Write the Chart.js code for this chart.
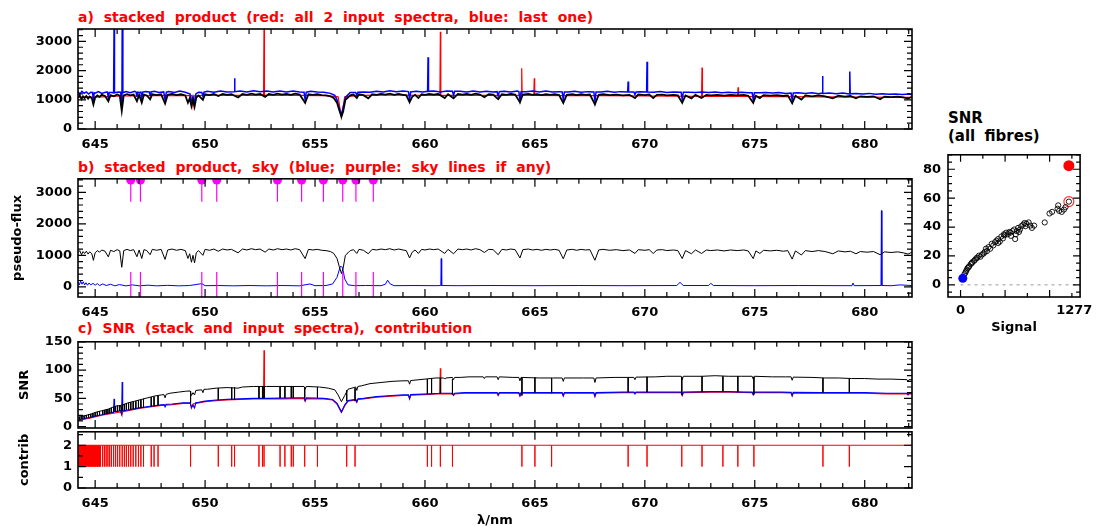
<!DOCTYPE html>
<html>
<head>
<meta charset="utf-8">
<title>stack diagnostics</title>
<script src="https://cdn.jsdelivr.net/npm/chart.js@4.4.0/dist/chart.umd.min.js"></script>
<style>
  html, body { margin: 0; padding: 0; background: #fff; }
  body { width: 1099px; height: 526px; overflow: hidden; position: relative; font-family: 'DejaVu Sans', sans-serif; }
  canvas { position: absolute; }
  .ptitle { position: absolute; left: 78px; color: #ff0000; font-weight: bold; font-size: 14px; line-height: 16px; word-spacing: 5px; white-space: nowrap; }
  .stitle { position: absolute; left: 948px; top: 109px; color: #000; font-weight: bold; font-size: 15px; line-height: 18.4px; word-spacing: 4px; white-space: nowrap; }
</style>
</head>
<body>
<div class="ptitle" style="top:9px">a) stacked product (red: all 2 input spectra, blue: last one)</div>
<div class="ptitle" style="top:159px">b) stacked product, sky (blue; purple: sky lines if any)</div>
<div class="ptitle" style="top:320px">c) SNR (stack and input spectra), contribution</div>
<div class="stitle">SNR<br>(all fibres)</div>
<canvas id="panelA"></canvas>
<canvas id="panelB"></canvas>
<canvas id="panelSnr"></canvas>
<canvas id="panelContrib"></canvas>
<canvas id="panelFibres"></canvas>
<script>
// axes
const lamMin = 644.22, lamMax = 682.15;
const lamTicks = [645, 650, 655, 660, 665, 670, 675, 680];
const fluxTicks = [0, 1000, 2000, 3000];
const snrTicks = [0, 50, 100, 150];
const contribTicks = [0, 1, 2];
const fibreSnrTicks = [0, 20, 40, 60, 80];
const signalTicks = [0, 1277];

// stacked product (black), nm / pseudo-flux
const stackFlux = [[644.22,1080],[644.30,1150],[644.38,1020],[644.45,1120],[644.52,1060],[644.60,1130],[644.68,1040],[644.75,1110],[644.85,1050],[644.92,840],[645.00,1080],[645.10,1150],[645.20,1100],[645.30,1170],[645.45,1130],[645.60,950],[645.70,1160],[645.85,1120],[646.00,1180],[646.12,1140],[646.21,620],[646.30,1150],[646.45,1190],[646.60,1150],[646.75,1180],[646.90,955],[647.00,1170],[647.12,900],[647.22,1180],[647.35,1150],[647.50,1020],[647.60,1190],[647.80,1160],[648.00,1190],[648.18,870],[648.30,1170],[648.50,1200],[648.70,1160],[648.90,1190],[649.10,1150],[649.22,900],[649.30,1050],[649.38,780],[649.45,1000],[649.52,760],[649.60,1080],[649.70,1150],[649.90,1000],[650.00,1190],[650.20,1160],[650.40,1200],[650.60,1130],[650.80,1200],[651.00,1170],[651.20,1190],[651.50,1080],[651.70,1200],[651.90,1170],[652.10,1210],[652.30,1180],[652.50,1200],[652.73,1100],[652.90,1200],[653.10,1170],[653.30,1210],[653.50,1180],[653.70,1200],[653.90,1170],[654.10,1210],[654.30,1180],[654.55,896],[654.70,1190],[654.90,1170],[655.10,1190],[655.30,1160],[655.50,1150],[655.70,1120],[655.85,1060],[656.00,900],[656.10,650],[656.20,420],[656.28,600],[656.38,1000],[656.50,1080],[656.60,1150],[656.75,1180],[656.90,1060],[657.00,1190],[657.20,1160],[657.42,1050],[657.60,1190],[657.80,1170],[658.00,1200],[658.20,1180],[658.40,1210],[658.60,1170],[658.80,1200],[659.00,1170],[659.15,1150],[659.30,916],[659.42,1100],[659.55,1170],[659.70,1060],[659.85,1190],[660.00,1170],[660.20,1200],[660.40,1180],[660.60,1200],[660.90,1060],[661.05,1190],[661.30,1050],[661.50,1200],[661.70,1180],[661.90,1200],[662.10,1170],[662.30,1210],[662.50,1180],[662.70,1090],[662.90,1190],[663.10,1180],[663.33,1020],[663.50,1190],[663.70,1170],[663.90,1200],[664.10,1180],[664.32,916],[664.45,1180],[664.70,1200],[664.90,1170],[665.10,1190],[665.30,1160],[665.50,1190],[665.70,1170],[665.90,1190],[666.10,1160],[666.29,890],[666.45,1170],[666.70,1190],[666.90,1160],[667.10,1190],[667.30,1170],[667.50,1180],[667.73,843],[667.90,1170],[668.10,1190],[668.40,1160],[668.70,1180],[669.00,1150],[669.30,1170],[669.55,1060],[669.70,1180],[670.00,1160],[670.20,1180],[670.38,1060],[670.55,1170],[670.80,1180],[671.00,1150],[671.30,1170],[671.50,1150],[671.70,896],[671.85,1150],[672.12,1050],[672.30,1170],[672.58,1060],[672.80,1170],[673.00,1150],[673.30,1170],[673.60,1140],[673.90,1170],[674.20,1150],[674.50,1170],[674.70,1140],[674.93,896],[675.05,1140],[675.23,1060],[675.40,1160],[675.70,1140],[676.00,1160],[676.30,1130],[676.50,1150],[676.70,880],[676.85,1140],[677.12,1010],[677.30,1150],[677.60,1120],[677.90,1150],[678.20,1120],[678.55,1050],[678.80,1140],[679.10,1110],[679.35,1130],[679.60,1050],[679.80,1120],[680.10,1100],[680.40,1120],[680.70,1020],[680.90,1110],[681.20,1090],[681.50,1110],[681.75,1080],[681.97,1040],[682.15,1100]];

// last input spectrum (blue)
const lastFlux = [[644.22,1280],[644.30,1200],[644.40,1290],[644.50,1220],[644.60,1270],[644.70,1200],[644.80,1260],[644.88,1250],[644.92,1000],[644.96,1240],[645.00,1230],[645.15,1280],[645.30,1220],[645.50,1270],[645.56,1260],[645.60,1050],[645.64,1250],[645.75,1250],[645.84,1240],[645.86,3500],[645.88,1240],[646.05,1270],[646.16,1260],[646.20,900],[646.22,1200],[646.23,3500],[646.26,1240],[646.40,1280],[646.60,1240],[646.80,1290],[646.86,1270],[646.90,1100],[646.94,1260],[647.00,1250],[647.08,1260],[647.12,1050],[647.16,1260],[647.30,1280],[647.46,1270],[647.50,1150],[647.54,1270],[647.70,1290],[647.90,1250],[648.12,1270],[648.18,1000],[648.24,1260],[648.35,1280],[648.60,1250],[648.85,1300],[649.10,1260],[649.32,1200],[649.38,900],[649.45,1100],[649.52,880],[649.58,1200],[649.70,1260],[649.85,1250],[649.90,1120],[649.95,1260],[650.10,1290],[650.40,1260],[650.70,1300],[651.00,1270],[651.32,1280],[651.34,1740],[651.36,1280],[651.60,1300],[651.90,1270],[652.20,1310],[652.50,1280],[652.80,1300],[653.10,1270],[653.40,1300],[653.70,1270],[654.00,1300],[654.30,1270],[654.50,1260],[654.55,1000],[654.60,1260],[654.80,1290],[655.10,1270],[655.40,1260],[655.70,1220],[655.90,1150],[656.00,1000],[656.10,700],[656.20,500],[656.30,800],[656.40,1100],[656.60,1250],[656.85,1250],[656.90,1150],[656.95,1260],[657.20,1270],[657.50,1260],[657.80,1290],[658.10,1270],[658.40,1310],[658.70,1280],[659.00,1300],[659.25,1280],[659.30,1000],[659.35,1270],[659.60,1290],[659.90,1270],[660.12,1290],[660.14,2457],[660.16,1290],[660.40,1300],[660.70,1270],[661.00,1300],[661.25,1290],[661.30,1150],[661.35,1290],[661.60,1290],[661.90,1270],[662.20,1300],[662.50,1270],[662.80,1290],[663.10,1270],[663.28,1280],[663.33,1120],[663.38,1280],[663.60,1290],[663.90,1270],[664.20,1300],[664.27,1280],[664.32,1000],[664.37,1280],[664.60,1280],[664.90,1300],[665.20,1270],[665.50,1300],[665.80,1270],[666.10,1280],[666.24,1270],[666.29,1000],[666.34,1270],[666.50,1270],[666.80,1290],[667.10,1260],[667.40,1280],[667.68,1270],[667.73,950],[667.78,1270],[668.00,1270],[668.30,1290],[668.60,1260],[668.90,1280],[669.22,1270],[669.24,1625],[669.26,1270],[669.50,1270],[669.55,1180],[669.60,1270],[669.80,1280],[670.08,1270],[670.10,2307],[670.12,1270],[670.40,1260],[670.70,1280],[671.00,1250],[671.30,1270],[671.65,1260],[671.70,1000],[671.75,1260],[672.00,1260],[672.30,1250],[672.60,1270],[672.90,1250],[673.20,1270],[673.50,1240],[673.80,1260],[674.10,1240],[674.40,1260],[674.70,1240],[674.88,1240],[674.93,1000],[674.98,1240],[675.20,1240],[675.50,1250],[675.80,1230],[676.10,1250],[676.40,1220],[676.65,1230],[676.70,990],[676.75,1230],[677.00,1240],[677.30,1220],[677.60,1240],[677.90,1210],[678.06,1230],[678.08,1819],[678.10,1220],[678.40,1230],[678.70,1210],[679.00,1230],[679.30,1200],[679.32,1966],[679.34,1210],[679.60,1220],[679.90,1200],[680.20,1220],[680.50,1190],[680.80,1210],[681.10,1190],[681.40,1200],[681.70,1180],[682.00,1200],[682.15,1170]];

// first input spectrum (red, mostly under the others)
const firstFlux = [[644.22,1080],[644.60,1100],[645.00,1090],[645.60,1110],[646.16,1130],[646.21,700],[646.26,1130],[646.50,1130],[647.50,1140],[648.50,1150],[649.40,1140],[649.45,800],[649.50,1140],[650.20,1150],[651.50,1150],[652.66,1150],[652.68,3500],[652.70,1150],[654.00,1150],[655.50,1140],[656.05,1100],[656.20,400],[656.35,1100],[657.00,1150],[658.50,1160],[660.00,1150],[660.68,1150],[660.70,3331],[660.72,1150],[662.00,1150],[664.38,1150],[664.40,2082],[664.42,1150],[664.95,1150],[664.97,1740],[664.99,1150],[666.50,1140],[668.00,1140],[670.00,1130],[672.58,1120],[672.60,2102],[672.62,1120],[674.22,1120],[674.24,1433],[674.26,1120],[676.00,1110],[678.00,1100],[680.00,1090],[682.15,1080]];

// sky (blue, panel b)
const skyFlux = [[644.22,150],[644.28,60],[644.34,180],[644.40,80],[644.46,160],[644.52,60],[644.58,130],[644.65,50],[644.72,120],[644.80,60],[644.90,110],[645.00,50],[645.10,100],[645.20,40],[645.35,90],[645.50,40],[645.70,80],[645.90,30],[646.10,70],[646.40,30],[646.70,60],[647.00,30],[647.40,50],[647.80,30],[648.30,45],[648.80,30],[649.30,40],[649.85,100],[650.00,35],[650.60,40],[651.30,30],[652.00,40],[652.80,30],[653.50,40],[654.30,30],[654.77,90],[655.00,35],[655.50,40],[655.80,90],[656.00,300],[656.15,650],[656.25,620],[656.35,250],[656.50,60],[656.80,35],[657.30,40],[658.00,35],[658.20,80],[658.30,210],[658.42,90],[658.60,35],[659.50,40],[660.50,35],[660.72,40],[660.74,896],[660.76,40],[661.50,35],[663.00,40],[665.00,35],[667.00,40],[669.00,35],[671.45,40],[671.60,140],[671.75,40],[672.90,40],[673.00,110],[673.12,40],[675.00,35],[677.00,40],[679.42,35],[679.47,120],[679.52,35],[680.74,40],[680.76,2420],[680.78,40],[681.20,35],[681.60,60],[682.15,40]];

// sky line positions (purple markers)
const skyLines = [646.62, 647.06, 649.85, 650.53, 653.29, 654.39, 655.38, 656.26, 656.86, 657.65];

// SNR of the stack (black), last input (blue), first input (red)
const snrStack = [[644.22,16],[644.50,19],[644.80,22],[645.00,25],[645.30,28],[645.60,31],[645.90,36],[646.16,37.5],[646.21,30],[646.26,38.5],[646.50,42],[646.80,45],[647.10,48],[647.40,51],[647.70,54],[648.00,56],[648.13,56.5],[648.18,51],[648.23,57],[648.40,59],[648.80,61],[649.10,62.5],[649.32,63],[649.38,55],[649.45,60],[649.52,56],[649.58,64],[649.85,65],[649.90,60],[649.95,66],[650.10,66],[650.50,68],[651.00,69],[651.50,68],[651.70,70],[652.20,71],[652.80,71],[653.40,71],[654.00,71],[654.50,71],[654.55,66],[654.60,71],[655.20,70],[655.60,68],[655.90,65],[656.05,56],[656.20,44],[656.35,55],[656.50,66],[656.85,70],[656.90,64],[656.95,71],[657.10,72],[657.50,76],[658.00,78],[658.50,80],[659.00,81],[659.25,81],[659.30,75],[659.35,81.5],[659.50,82],[660.00,84],[660.50,86],[660.85,86],[660.90,84],[660.95,86],[661.25,87],[661.30,83],[661.35,87],[661.60,87],[662.00,88],[662.65,88],[662.70,85],[662.75,88],[663.28,88],[663.33,83],[663.38,88],[664.00,87],[664.27,87],[664.32,81],[664.37,87],[665.20,86],[665.80,86],[666.24,86],[666.29,80],[666.34,86],[667.20,86],[667.68,86],[667.73,78],[667.78,86],[668.60,87],[669.20,87],[669.50,87],[669.55,83],[669.60,87.5],[670.50,88],[671.00,89],[671.65,89],[671.70,83],[671.75,89],[672.60,89],[673.20,90],[673.80,89],[674.40,89],[674.88,89],[674.93,84],[674.98,89],[675.80,88],[676.40,88],[676.65,88],[676.70,82],[676.75,87.5],[677.60,87],[678.20,86],[678.80,86],[679.40,85],[680.00,85],[680.60,84],[681.20,84],[681.92,83],[681.97,80],[682.02,83],[682.15,83]];
const snrLast = [[644.22,12],[644.50,14],[644.80,16.5],[645.00,18.5],[645.30,21],[645.60,23.5],[645.84,25.5],[645.86,49],[645.88,26],[646.16,28],[646.21,22],[646.23,79],[646.25,28],[646.60,30],[647.00,33],[647.50,36],[648.00,38.5],[648.13,39],[648.18,35],[648.23,39.5],[648.50,40],[649.00,42],[649.32,42],[649.38,34],[649.45,38],[649.52,33],[649.58,42.5],[649.70,43],[650.00,45],[650.50,47],[651.00,48],[651.60,49],[652.20,50],[652.80,50],[653.50,50.5],[654.20,51],[654.50,51],[654.55,46],[654.60,51],[655.40,50],[655.80,48],[656.00,41],[656.20,26],[656.35,38],[656.50,46],[656.85,48],[656.90,44],[656.95,49],[657.20,50],[657.80,53],[658.50,55],[659.00,56],[659.25,56],[659.30,50],[659.35,56.5],[660.20,58],[660.80,59],[661.25,59],[661.30,56],[661.35,59],[661.80,60],[662.50,60],[663.28,60],[663.33,56],[663.38,60],[664.27,60],[664.32,55],[664.37,60],[665.50,60],[666.24,60],[666.29,55],[666.34,60],[667.68,60],[667.73,54],[667.78,60],[669.00,61],[669.50,61],[669.55,58],[669.60,61],[670.20,61],[671.00,61],[671.65,61],[671.70,56],[671.75,61],[673.00,62],[673.80,62],[674.50,61],[674.88,61],[674.93,57],[674.98,61],[676.20,61],[676.65,60.5],[676.70,55],[676.75,60.5],[678.00,60],[679.00,60],[680.00,60],[681.00,59],[681.92,59],[681.97,56],[682.02,59],[682.15,59]];
const snrFirst = [[644.22,11],[644.80,15.5],[645.30,20],[645.90,24],[646.16,26],[646.21,21],[646.26,26.5],[646.50,28],[647.00,32],[647.50,35],[648.00,37.5],[648.50,39],[649.00,41],[649.33,41],[649.38,33],[649.45,40],[649.70,42],[650.00,44],[650.50,46],[651.00,47],[651.60,48],[652.20,49],[652.66,49],[652.68,135],[652.70,49],[653.50,49],[654.20,49.5],[654.50,49.5],[654.55,45],[654.60,49.5],[655.40,49],[655.80,47],[656.00,40],[656.20,25],[656.35,37],[656.50,45],[656.85,47],[656.90,43],[656.95,48],[657.20,49],[657.80,52],[658.50,54],[659.00,55],[659.25,55],[659.30,49],[659.35,55.5],[660.20,57],[660.68,58],[660.70,103],[660.72,58],[661.25,58],[661.30,55],[661.35,58],[661.80,59],[662.50,59],[663.28,59],[663.33,55],[663.38,59],[664.27,59],[664.32,54],[664.37,59],[665.50,59],[666.24,59],[666.29,54],[666.34,59],[667.68,59],[667.73,53],[667.78,59],[669.00,60],[670.20,60],[671.00,60],[671.65,60],[671.70,55],[671.75,60],[673.00,61],[674.00,61],[674.88,60],[674.93,56],[674.98,60],[676.20,60],[676.65,59.5],[676.70,54],[676.75,59.5],[678.00,59],[679.00,59],[680.00,59],[681.00,58],[682.15,58]];

// where only one input contributes: wavelength, stack SNR, single SNR
const dropAt   = [644.30,644.40,644.50,644.60,644.70,644.80,644.90,645.00,645.10,645.20,645.34,645.42,645.50,645.58,645.66,645.74,645.84,645.93,646.02,646.12,646.23,646.33,646.42,646.52,646.62,646.73,646.85,646.97,647.08,647.20,647.55,647.68,647.86,649.34,650.60,651.21,651.34,652.45,652.61,652.68,653.41,653.63,653.92,654.01,654.53,655.11,656.44,656.82,660.11,660.30,660.70,661.25,664.41,665.00,665.76,669.24,670.10,671.68,672.60,673.55,674.23,674.96,678.10,679.30];
const dropHigh = [17.5,18.5,19.5,20.5,21.5,22.5,23.5,25,26,27,28,29,30,31,32,33,34,36,37,38,39,40,41,42,43,44,45,46,48,49,52,53,55,63,68,69,69,71,71,71,71,71,71,71,70,70,64,68,84,85,86,84,86,87,86,87,88,88,89,89,89,88,86,85];
const dropLow  = [12.5,13.3,14,15,15.7,16.5,17.5,18.5,19.2,20,21,22,22.5,23,23.5,24.5,25.5,26,27,27.5,28,29,29.5,30,30,31,31.5,32.5,33,34,35.5,36,37.5,42,47,48,48,50,50,50,50.5,50.5,51,51,51,51,45,45,58,58,59,56,55,60,59,61,61,56,61,62,61,57,60,60];
const contribBlock = [644.22, 645.28];

// SNR of all fibres vs signal
const fibreSignal = [43,54,61,72,79,90,97,115,126,133,151,162,177,188,206,224,242,260,271,285,296,314,332,350,368,386,404,422,422,440,458,476,487,494,512,530,548,559,566,584,602,613,620,631,646,656,667,682,703,718,729,739,765,783,801,826,945,999,1028,1089,1096,1107,1136,1161,1179,1216];
const fibreSnr = [7.3,8.4,9.5,10.6,11.7,12.2,12.9,14.4,15.1,15.7,16.6,17.3,18.4,18.8,20.2,19.5,21.1,21.7,22.8,25.0,23.3,26.1,25.0,28.4,27.3,29.5,30.6,31.7,29.0,29.9,33.5,32.1,35.0,34.3,36.1,35.0,36.6,36.1,33.9,37.2,38.3,31.7,35.0,37.2,39.4,36.6,38.3,40.6,41.7,42.8,40.6,42.3,43.2,41.0,39.4,41.0,43.2,49.4,50.5,52.7,55.0,51.2,50.5,52.1,53.8,57.6];
const stackPoint = [1216, 82.5];
const inputPoint = [1216, 57.6];
const skyPoint = [25, 4.5];

Chart.defaults.font.family = 'DejaVu Sans';
Chart.defaults.font.weight = 'bold';
Chart.defaults.font.size = 13;
Chart.defaults.color = '#000';

const toXY = pts => pts.map(([x, y]) => ({x, y}));

// PGPLOT-like box: inward ticks on all four sides
const framePlugin = {
  id: 'frame',
  afterDatasetsDraw(chart, args, o) {
    const {ctx, chartArea: a} = chart;
    const xs = chart.scales.x, ys = chart.scales.y;
    ctx.save();
    if (o.zero) {
      const py = ys.getPixelForValue(0);
      ctx.setLineDash([3, 4]);
      ctx.lineWidth = 1;
      ctx.strokeStyle = '#9a9a9a';
      ctx.beginPath();
      ctx.moveTo(xs.getPixelForValue(0), py);
      ctx.lineTo(a.right, py);
      ctx.stroke();
      ctx.setLineDash([]);
    }
    ctx.strokeStyle = '#000';
    ctx.lineWidth = 1.2;
    const marks = (scale, major, minor, draw) => {
      const k0 = Math.ceil(scale.min / minor - 1e-6), k1 = Math.floor(scale.max / minor + 1e-6);
      for (let k = k0; k <= k1; k++) {
        const v = k * minor;
        const isMajor = Math.abs(v / major - Math.round(v / major)) < 1e-6;
        draw(scale.getPixelForValue(v), isMajor ? o.major : o.minor);
      }
    };
    ctx.beginPath();
    marks(xs, o.x[0], o.x[1], (p, len) => {
      ctx.moveTo(p, a.bottom); ctx.lineTo(p, a.bottom - len);
      ctx.moveTo(p, a.top); ctx.lineTo(p, a.top + len);
    });
    marks(ys, o.y[0], o.y[1], (p, len) => {
      ctx.moveTo(a.left, p); ctx.lineTo(a.left + len, p);
      ctx.moveTo(a.right, p); ctx.lineTo(a.right - len, p);
    });
    ctx.stroke();
    ctx.lineWidth = 1.6;
    ctx.strokeRect(a.left, a.top, a.right - a.left, a.bottom - a.top);
    ctx.restore();
  }
};

function place(id, cv, area) {
  const el = document.getElementById(id);
  el.width = cv.w;
  el.height = cv.h;
  Object.assign(el.style, {left: cv.x + 'px', top: cv.y + 'px', width: cv.w + 'px', height: cv.h + 'px'});
  return {
    el,
    padding: {left: 0, top: area.top - cv.y, right: cv.x + cv.w - area.right, bottom: 0},
    yWidth: area.left - cv.x,
    xHeight: cv.y + cv.h - area.bottom
  };
}

function xAxis(p, o) {
  return {
    type: 'linear', min: o.min, max: o.max,
    grid: {display: false, drawTicks: false},
    border: {display: false},
    afterBuildTicks: s => { s.ticks = o.ticks.map(v => ({value: v})); },
    afterFit: s => { s.height = p.xHeight; },
    ticks: {display: o.labels !== false, padding: o.pad || 8, maxRotation: 0, autoSkip: false, callback: v => String(v)},
    title: o.title ? {display: true, text: o.title, padding: {top: 0, bottom: o.titlePad}} : {display: false}
  };
}

function yAxis(p, o) {
  return {
    type: 'linear', min: o.min, max: o.max,
    grid: {display: false, drawTicks: false},
    border: {display: false},
    afterBuildTicks: s => { s.ticks = o.ticks.map(v => ({value: v})); },
    afterFit: s => { s.width = p.yWidth; },
    ticks: {padding: o.pad || 6, autoSkip: false, callback: v => String(v)},
    title: o.title ? {display: true, text: o.title, padding: {top: o.titlePad, bottom: 0}} : {display: false}
  };
}

function line(data, color, width) {
  return {data, borderColor: color, borderWidth: width, showLine: true, pointRadius: 0, tension: 0, fill: false, clip: 0};
}

function build(p, datasets, x, y, frame) {
  return new Chart(p.el, {
    type: 'scatter',
    data: {datasets},
    options: {
      responsive: false, animation: false, events: [],
      layout: {padding: p.padding},
      plugins: {legend: {display: false}, tooltip: {enabled: false}, frame},
      scales: {x: xAxis(p, x), y: yAxis(p, y)}
    },
    plugins: [framePlugin]
  });
}

const lamAxis = {min: lamMin, max: lamMax, ticks: lamTicks};

// a) stacked product with both inputs
const pA = place('panelA', {x: 0, y: 15, w: 925, h: 150}, {left: 78, top: 29, right: 912, bottom: 129});
build(pA, [
  line(toXY(stackFlux), '#000000', 1.8),
  line(toXY(lastFlux), '#0000ff', 1.5),
  line(toXY(firstFlux), '#ff0000', 1.2)
], lamAxis, {min: 0, max: 3425, ticks: fluxTicks}, {x: [5, 1], y: [1000, 200], major: 8, minor: 5});

// b) stacked product and sky
const skyTop = 3433, skyPinEnd = 2700, skyBottom = -325, skyPinLow = 470;
const pinLines = skyLines.flatMap(l => [
  {x: l, y: skyTop}, {x: l, y: skyPinEnd}, {x: l, y: null},
  {x: l, y: skyBottom}, {x: l, y: skyPinLow}, {x: l, y: null}
]);
const pinHeads = skyLines.map(l => ({x: l, y: skyTop - 40}));
const pB = place('panelB', {x: 0, y: 165, w: 925, h: 165}, {left: 78, top: 178, right: 912, bottom: 297});
build(pB, [
  line(pinLines, '#ff00ff', 1.2),
  {data: pinHeads, pointRadius: 4.5, pointBackgroundColor: '#ff00ff', pointBorderWidth: 0, showLine: false, clip: 0},
  line(toXY(stackFlux), '#000000', 1),
  line(toXY(skyFlux), '#0000ff', 1)
], lamAxis, {min: skyBottom, max: skyTop, ticks: fluxTicks, title: 'pseudo-flux', titlePad: 10}, {x: [5, 1], y: [1000, 200], major: 8, minor: 5});

// c) SNR
const dropLines = dropAt.flatMap((l, i) => [{x: l, y: dropHigh[i]}, {x: l, y: dropLow[i]}, {x: l, y: null}]);
const pC = place('panelSnr', {x: 0, y: 328, w: 925, h: 115}, {left: 78, top: 340, right: 912, bottom: 428});
build(pC, [
  line(dropLines, '#000000', 1),
  line(toXY(snrStack), '#000000', 1),
  line(toXY(snrLast), '#0000ff', 1.2),
  line(toXY(snrFirst), '#ff0000', 1.2)
], {...lamAxis, labels: false}, {min: -2.5, max: 150, ticks: snrTicks, title: 'SNR', titlePad: 17}, {x: [5, 1], y: [50, 10], major: 8, minor: 5});

// contribution
const contribLine = [{x: lamMin, y: 2}, ...dropAt.flatMap(l => [{x: l, y: 2}, {x: l, y: 1}, {x: l, y: 2}]), {x: lamMax, y: 2}];
const pD = place('panelContrib', {x: 0, y: 418, w: 925, h: 112}, {left: 78, top: 428, right: 912, bottom: 488});
build(pD, [
  line(contribLine, '#ff0000', 1),
  {...line(contribBlock.map(l => ({x: l, y: 1})), '#ff0000', 0), fill: {value: 2}, backgroundColor: '#ff0000'}
], {...lamAxis, title: 'λ/nm', titlePad: 2}, {min: 0, max: 2.63, ticks: contribTicks, title: 'contrib', titlePad: 17}, {x: [5, 1], y: [1, 0.5], major: 8, minor: 5});

// SNR of all fibres
const pE = place('panelFibres', {x: 900, y: 140, w: 199, h: 200}, {left: 948, top: 149, right: 1085, bottom: 297});
build(pE, [
  {data: [{x: stackPoint[0], y: stackPoint[1]}], pointRadius: 5.5, pointBackgroundColor: '#ff0000', pointBorderWidth: 0, showLine: false},
  {data: [{x: skyPoint[0], y: skyPoint[1]}], pointRadius: 4.5, pointBackgroundColor: '#0000ff', pointBorderWidth: 0, showLine: false},
  {data: fibreSignal.map((s, i) => ({x: s, y: fibreSnr[i]})), pointRadius: 2.6, pointBackgroundColor: 'rgba(0,0,0,0)', pointBorderColor: '#000', pointBorderWidth: 0.9, showLine: false},
  {data: [{x: inputPoint[0], y: inputPoint[1]}], pointRadius: 5, pointBackgroundColor: 'rgba(0,0,0,0)', pointBorderColor: '#ff3030', pointBorderWidth: 1.2, showLine: false}
], {min: -141, max: 1342, ticks: signalTicks, title: 'Signal', titlePad: 5, pad: 6}, {min: -8.4, max: 90, ticks: fibreSnrTicks, pad: 7}, {x: [500, 250], y: [20, 5], major: 7, minor: 4, zero: true});
</script>
</body>
</html>
